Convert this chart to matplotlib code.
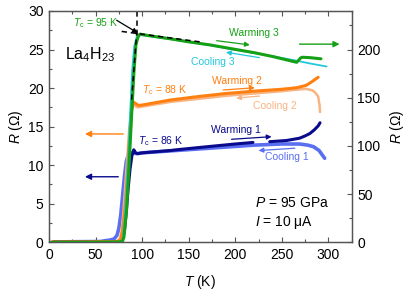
import numpy as np
import matplotlib
matplotlib.use("Agg")
import matplotlib.pyplot as plt
from matplotlib.ticker import MultipleLocator

plt.rcParams['font.family'] = ['Liberation Sans', 'DejaVu Sans']
plt.rcParams['mathtext.fontset'] = 'custom'
plt.rcParams['mathtext.rm'] = 'Liberation Sans'
plt.rcParams['mathtext.it'] = 'Liberation Sans:italic'
plt.rcParams['mathtext.bf'] = 'Liberation Sans:bold'

# ---------------- data ----------------
T_w3 = [2, 40, 75, 79, 80.5, 83.3, 86, 88.7, 91.2, 93.3, 95.5, 97.6, 100, 110, 130, 150, 173,
        194, 220, 240, 264, 266, 268, 270, 272, 280, 292]
R_w3 = [0.0, 0.0, 0.05, 0.15, 0.7, 4.2, 10.0, 16.5, 22.1, 25.6, 26.6, 27.0, 26.95, 26.75, 26.4,
        26.0, 25.6, 25.15, 24.6, 24.1, 23.4, 23.35, 23.6, 23.9, 24.0, 23.95, 23.8]

T_c3 = [78, 79.5, 82, 85, 87, 89.3, 91.5, 94, 97, 110, 130, 173, 194, 237, 264, 280, 298]
R_c3 = [0.05, 0.8, 4.5, 11.0, 16.5, 22.3, 25.4, 26.6, 26.9, 26.7, 26.35, 25.55, 25.1, 24.2,
        23.6, 23.2, 22.8]

T_w2 = [3, 40, 74, 77, 79, 81.5, 83.5, 85, 87, 88.5, 90.5, 93, 96, 100, 130, 160, 190, 220,
        250, 266, 276, 282, 286, 289]
R_w2 = [0.05, 0.05, 0.1, 0.4, 1.5, 4.2, 7.5, 10.7, 14.5, 17.0, 18.2, 18.0, 17.75, 17.8, 18.45,
        18.9, 19.3, 19.6, 19.85, 20.05, 20.35, 20.8, 21.15, 21.4]

T_c2 = [5, 72, 76, 78, 80, 82, 84, 86, 88.5, 91, 95, 100, 130, 160, 190, 220, 250, 266, 276,
        283, 286, 289, 290.5, 291]
R_c2 = [0.05, 0.1, 0.4, 1.5, 4.0, 7.5, 11.0, 14.5, 17.3, 17.8, 17.5, 17.6, 18.2, 18.6, 19.0,
        19.3, 19.6, 19.8, 19.9, 19.7, 19.4, 18.9, 17.8, 16.9]

T_w1 = [5, 60, 76, 79, 81, 83, 85, 87, 89, 91, 93, 95, 100, 130, 141, 170, 200, 219, np.nan,
        237, 255, 269, 275, 280, 285, 289, 291]
R_w1 = [0.05, 0.05, 0.1, 0.5, 1.5, 4.0, 7.0, 9.5, 11.2, 12.0, 11.6, 11.5, 11.6, 11.9, 12.05,
        12.4, 12.75, 12.95, np.nan, 13.05, 13.2, 13.5, 13.8, 14.1, 14.6, 15.1, 15.5]

T_c1 = [5, 55, 60, 66, 70, 73, 75, 77, 79, 81, 83, 85, 88, 95, 100, 130, 160, 190, 220, 250,
        269, 278, 284, 290, 293, 296]
R_c1 = [0.05, 0.1, 0.2, 0.3, 0.45, 0.9, 1.8, 3.5, 6.0, 8.5, 10.5, 11.3, 11.6, 11.5, 11.6,
        11.85, 12.1, 12.35, 12.6, 12.75, 12.75, 12.6, 12.4, 11.9, 11.4, 10.9]

# Tc construction lines (dashed)
T_tc_normal = [78, 165]
R_tc_normal = [27.35, 25.95]
T_tc_slope = [88.7, 94.2]
R_tc_slope = [18.5, 27.2]
T_tc_vert = [95, 95]
R_tc_vert = [26.9, 30]

x_ticks = [0, 50, 100, 150, 200, 250, 300]
y_ticks = [0, 5, 10, 15, 20, 25, 30]
y2_ticks = [0, 50, 100, 150, 200]

# ---------------- colours ----------------
c_green = '#16a016'
c_cyan = '#22c8dc'
c_orange = '#ff7f10'
c_lorange = '#f8b482'
c_navy = '#0a0a8c'
c_lblue = '#5a6ef2'
spine_c = '#555555'

fig = plt.figure(figsize=(4.07, 2.91), dpi=100)
ax = fig.add_axes([0.1204, 0.1674, 0.8641 - 0.1204, 0.9622 - 0.1674])

ax.plot(T_c1, R_c1, color=c_lblue, lw=2.6, solid_capstyle='round', zorder=2)
ax.plot(T_w1, R_w1, color=c_navy, lw=2.2, solid_capstyle='round', zorder=3)
ax.plot(T_c2, R_c2, color=c_lorange, lw=1.8, solid_capstyle='round', zorder=2)
ax.plot(T_w2, R_w2, color=c_orange, lw=2.2, solid_capstyle='round', zorder=3)
ax.plot(T_c3, R_c3, color=c_cyan, lw=1.3, solid_capstyle='round', zorder=3)
ax.plot(T_w3, R_w3, color=c_green, lw=2.2, solid_capstyle='round', zorder=4)

dash = dict(color='black', lw=1.1, ls=(0, (3.5, 2.5)), zorder=5)
ax.plot(T_tc_normal, R_tc_normal, **dash)
ax.plot(T_tc_slope, R_tc_slope, **dash)
ax.plot(T_tc_vert, R_tc_vert, **dash)

ax.set_xlim(0, 325)
ax.set_ylim(0, 30)
ax.set_xticks(x_ticks)
ax.set_yticks(y_ticks)
ax.xaxis.set_minor_locator(MultipleLocator(25))
ax.yaxis.set_minor_locator(MultipleLocator(2.5))
ax.tick_params(which='both', direction='in', top=True, right=False, color=spine_c,
               labelsize=10, width=0.8)
ax.tick_params(which='major', length=3.5, pad=4)
ax.tick_params(which='minor', length=2)
for s in ax.spines.values():
    s.set_color(spine_c)
    s.set_linewidth(0.9)

ax.set_xlabel('$T$ (K)', fontsize=10, labelpad=8)
ax.set_ylabel('$R$ ($\\Omega$)', fontsize=10, labelpad=2)

ax2 = ax.twinx()
ax2.set_ylim(0, 240)
ax2.set_yticks(y2_ticks)
ax2.yaxis.set_minor_locator(MultipleLocator(25))
ax2.tick_params(which='both', direction='in', color=spine_c, labelsize=10, width=0.8)
ax2.tick_params(which='major', length=3.5, pad=4)
ax2.tick_params(which='minor', length=2)
for s in ax2.spines.values():
    s.set_color(spine_c)
    s.set_linewidth(0.9)
ax2.set_ylabel('$R$ ($\\Omega$)', fontsize=10, rotation=90, labelpad=5)

# ---------------- annotations ----------------
fs = 7.5


def arrow(x0, y0, x1, y1, c, lw=0.9, ms=7):
    ax.annotate('', xy=(x1, y1), xytext=(x0, y0),
                arrowprops=dict(arrowstyle='-|>', color=c, lw=lw, mutation_scale=ms,
                                shrinkA=0, shrinkB=0), zorder=6)


ax.text(220, 27.2, 'Warming 3', color=c_green, fontsize=fs, ha='center', va='center')
arrow(180, 26.15, 215.6, 25.6, c_green)
ax.text(176, 23.4, 'Cooling 3', color=c_cyan, fontsize=fs, ha='center', va='center')
arrow(226, 23.95, 190, 24.65, c_cyan)
arrow(269, 25.7, 312, 25.7, c_green, lw=1.0, ms=9)

ax.text(202, 20.96, 'Warming 2', color=c_orange, fontsize=fs, ha='center', va='center')
arrow(187, 19.75, 221, 20.05, c_orange)
ax.text(242.5, 17.7, 'Cooling 2', color=c_lorange, fontsize=fs, ha='center', va='center')
arrow(226, 18.97, 201, 18.7, c_lorange)
arrow(79.7, 14.05, 38.6, 14.05, c_orange, lw=1.0, ms=9)

ax.text(201, 14.5, 'Warming 1', color=c_navy, fontsize=fs, ha='center', va='center')
arrow(196, 13.36, 239, 13.7, c_navy)
ax.text(255, 11.0, 'Cooling 1', color=c_lblue, fontsize=fs, ha='center', va='center')
arrow(264, 12.2, 225, 11.9, c_lblue)
arrow(74.4, 8.5, 38.6, 8.5, c_navy, lw=1.0, ms=9)

ax.text(25.8, 28.4, '$T_{\\rm c}$ = 95 K', color=c_green, fontsize=fs, ha='left', va='center')
arrow(72.6, 28.8, 95.3, 27.15, 'black', lw=0.9, ms=7)
ax.text(99.5, 19.75, '$T_{\\rm c}$ = 88 K', color=c_orange, fontsize=fs, ha='left', va='center')
ax.text(96, 13.15, '$T_{\\rm c}$ = 86 K', color=c_navy, fontsize=fs, ha='left', va='center')

ax.text(17, 24.3, 'La$_4$H$_{23}$', fontsize=11.5, ha='left', va='center')
ax.text(221, 5.1, '$P$ = 95 GPa', fontsize=10, ha='left', va='center')
ax.text(221, 2.55, '$I$ = 10 μA', fontsize=10, ha='left', va='center')

fig.savefig('out.png', dpi=100)
